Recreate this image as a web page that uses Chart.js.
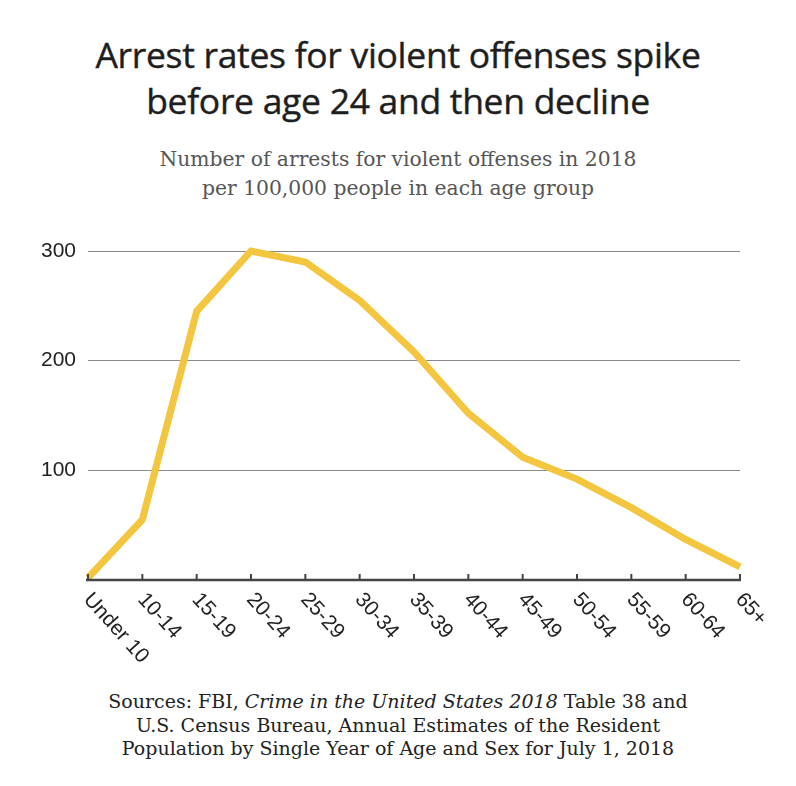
<!DOCTYPE html>
<html>
<head>
<meta charset="utf-8">
<script src="https://cdn.jsdelivr.net/npm/chart.js@4"></script>
<style>
  body { margin: 0; background: #fff; width: 796px; height: 786px; position: relative; overflow: hidden; }
  #title { position: absolute; top: 31px; left: 0; width: 796px; text-align: center;
    font-family: "Open Sans", sans-serif; font-size: 35.5px; line-height: 46px; color: #1e1e1e; letter-spacing: -0.3px;
    -webkit-text-stroke: 0.4px #1e1e1e; }
  #subtitle { position: absolute; top: 145px; left: 0; width: 796px; text-align: center;
    font-family: "DejaVu Serif", serif; font-size: 20.3px; line-height: 29px; color: #555; }
  #chart-wrap { position: absolute; top: 225px; left: 0; width: 796px; height: 455px; }
  #source { position: absolute; top: 690px; left: 0; width: 796px; text-align: center;
    font-family: "DejaVu Serif", serif; font-size: 19px; line-height: 23.5px; color: #222; }
</style>
</head>
<body>
<div id="title">Arrest rates for violent offenses spike<br>before age 24 and then decline</div>
<div id="subtitle">Number of arrests for violent offenses in 2018<br>per 100,000 people in each age group</div>
<div id="chart-wrap"><canvas id="arrest-chart"></canvas></div>
<div id="source">Sources: FBI, <i>Crime in the United States 2018</i> Table 38 and<br>U.S. Census Bureau, Annual Estimates of the Resident<br>Population by Single Year of Age and Sex for July 1, 2018</div>

<script>
// chart data
const ageGroups = ['Under 10', '10-14', '15-19', '20-24', '25-29', '30-34', '35-39',
                   '40-44', '45-49', '50-54', '55-59', '60-64', '65+'];
const arrestRates = [2, 55, 245, 300, 290, 255, 208, 152, 112, 92, 66, 37, 12];
const yTicks = [100, 200, 300];

// Draws the slanted age labels plus the baseline tick marks
const ageAxisPlugin = {
    id: 'ageAxis',
    afterDraw(chart) {
        const ctx = chart.ctx;
        const xScale = chart.scales.x;
        const base = chart.chartArea.bottom;
        ctx.save();
        // tick marks point up into the plot
        ctx.strokeStyle = '#444';
        ctx.lineWidth = 2;
        ageGroups.forEach((label, i) => {
            const x = xScale.getPixelForValue(i);
            ctx.beginPath();
            ctx.moveTo(x, base);
            ctx.lineTo(x, base - 6);
            ctx.stroke();
        });
        // baseline
        ctx.lineWidth = 2.5;
        ctx.beginPath();
        ctx.moveTo(chart.chartArea.left - 2, base);
        ctx.lineTo(chart.chartArea.right + 1, base);
        ctx.stroke();
        // labels
        ctx.fillStyle = '#222';
        ctx.font = '21px "Liberation Sans", Arial, sans-serif';
        ctx.textAlign = 'left';
        ctx.textBaseline = 'middle';
        ageGroups.forEach((label, i) => {
            const x = xScale.getPixelForValue(i);
            ctx.save();
            ctx.translate(x - 1, base + 16);
            ctx.rotate(48 * Math.PI / 180);
            ctx.fillText(label, 0, 0);
            ctx.restore();
        });
        ctx.restore();
    }
};

const ctx = document.getElementById('arrest-chart').getContext('2d');
const chart = new Chart(ctx, {
    type: 'line',
    data: {
        labels: ageGroups,
        datasets: [{
            data: arrestRates,
            borderColor: '#F4C53E',
            borderWidth: 7,
            pointRadius: 0,
            tension: 0,
            clip: false,
        }],
    },
    options: {
        responsive: true,
        maintainAspectRatio: false,
        animation: false,
        layout: { padding: { top: 26, right: 56, left: 0, bottom: 0 } },
        plugins: { legend: { display: false }, tooltip: { enabled: false } },
        scales: {
            x: {
                offset: false,
                grid: { display: false },
                border: { display: false },
                ticks: { display: false },
                afterFit: (scale) => { scale.height = 100; }
            },
            y: {
                min: 0,
                max: 300,
                afterBuildTicks: (scale) => { scale.ticks = yTicks.map(v => ({ value: v })); },
                grid: {
                    color: '#8a8a8a',
                    lineWidth: 1,
                    drawTicks: false,
                },
                border: { display: false },
                ticks: {
                    color: '#222',
                    padding: 12,
                    font: { family: '"Liberation Sans", Arial, sans-serif', size: 21 },
                },
                afterFit: (scale) => { scale.width = 88; }
            }
        }
    },
    plugins: [ageAxisPlugin]
});
</script>
</body>
</html>
